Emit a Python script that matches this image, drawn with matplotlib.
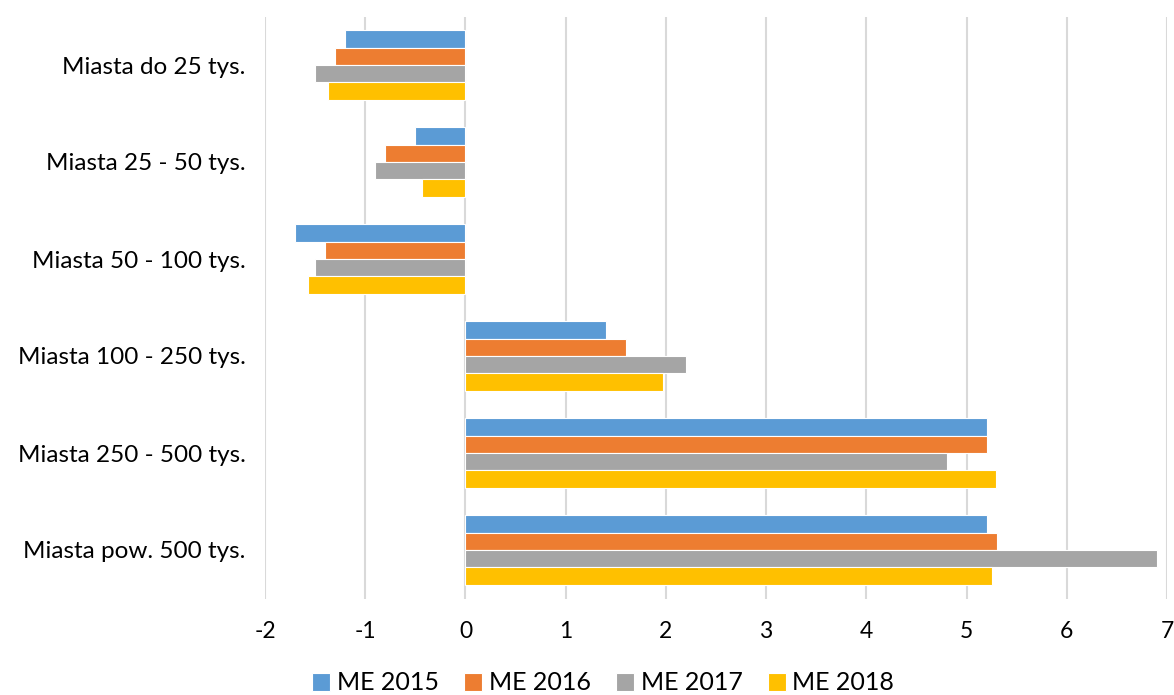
import matplotlib
matplotlib.use("Agg")
import matplotlib.pyplot as plt
import numpy as np

categories = ["Miasta do 25 tys.", "Miasta 25 - 50 tys.", "Miasta 50 - 100 tys.",
              "Miasta 100 - 250 tys.", "Miasta 250 - 500 tys.", "Miasta pow. 500 tys."]
series_names = ["ME 2015", "ME 2016", "ME 2017", "ME 2018"]
me2015 = [-1.2, -0.5, -1.7, 1.4, 5.2, 5.2]
me2016 = [-1.3, -0.8, -1.4, 1.6, 5.2, 5.3]
me2017 = [-1.5, -0.9, -1.5, 2.2, 4.8, 6.9]
me2018 = [-1.37, -0.43, -1.57, 1.975, 5.29, 5.25]
x_ticks = [-2, -1, 0, 1, 2, 3, 4, 5, 6, 7]

colors = ["#5B9BD5", "#ED7D31", "#A5A5A5", "#FFC000"]

plt.rcParams['font.family'] = ['Lato', 'DejaVu Sans']

fig = plt.figure(figsize=(11.74, 6.95), dpi=100)
ax = fig.add_axes([265/1174, 1 - 598.5/695, (1167-265)/1174, (598.5-16.5)/695])

series = [me2015, me2016, me2017, me2018]
n = len(series)
y = np.arange(len(categories))
bh = 0.18
for i, (vals, name, c) in enumerate(zip(series, series_names, colors)):
    off = (i - (n - 1) / 2) * bh
    ax.barh(y + off, vals, height=bh, color=c, edgecolor="white", linewidth=0.8,
            label=name, zorder=3)

ax.set_ylim(len(categories) - 0.5, -0.5)
ax.set_xlim(-2, 7)
ax.set_xticks(x_ticks)
ax.set_xticklabels([str(t) for t in x_ticks])
ax.set_yticks(y)
ax.set_yticklabels(categories)
ax.tick_params(axis='both', length=0, colors="#000000")
ax.tick_params(axis='x', pad=16, labelsize=16.5)
ax.tick_params(axis='y', pad=14, labelsize=17.5)
ax.grid(axis='x', color="#D9D9D9", linewidth=1.5, zorder=0)
for s in ax.spines.values():
    s.set_visible(False)

handles, labels = ax.get_legend_handles_labels()
fig.legend(handles, labels, loc='center', bbox_to_anchor=(603/1174, 1 - 683/695),
           ncol=4, frameon=False, fontsize=18, handlelength=0.75, handleheight=0.75,
           handletextpad=0.25, columnspacing=1.0, borderaxespad=0)

fig.savefig("out.png", dpi=100)
